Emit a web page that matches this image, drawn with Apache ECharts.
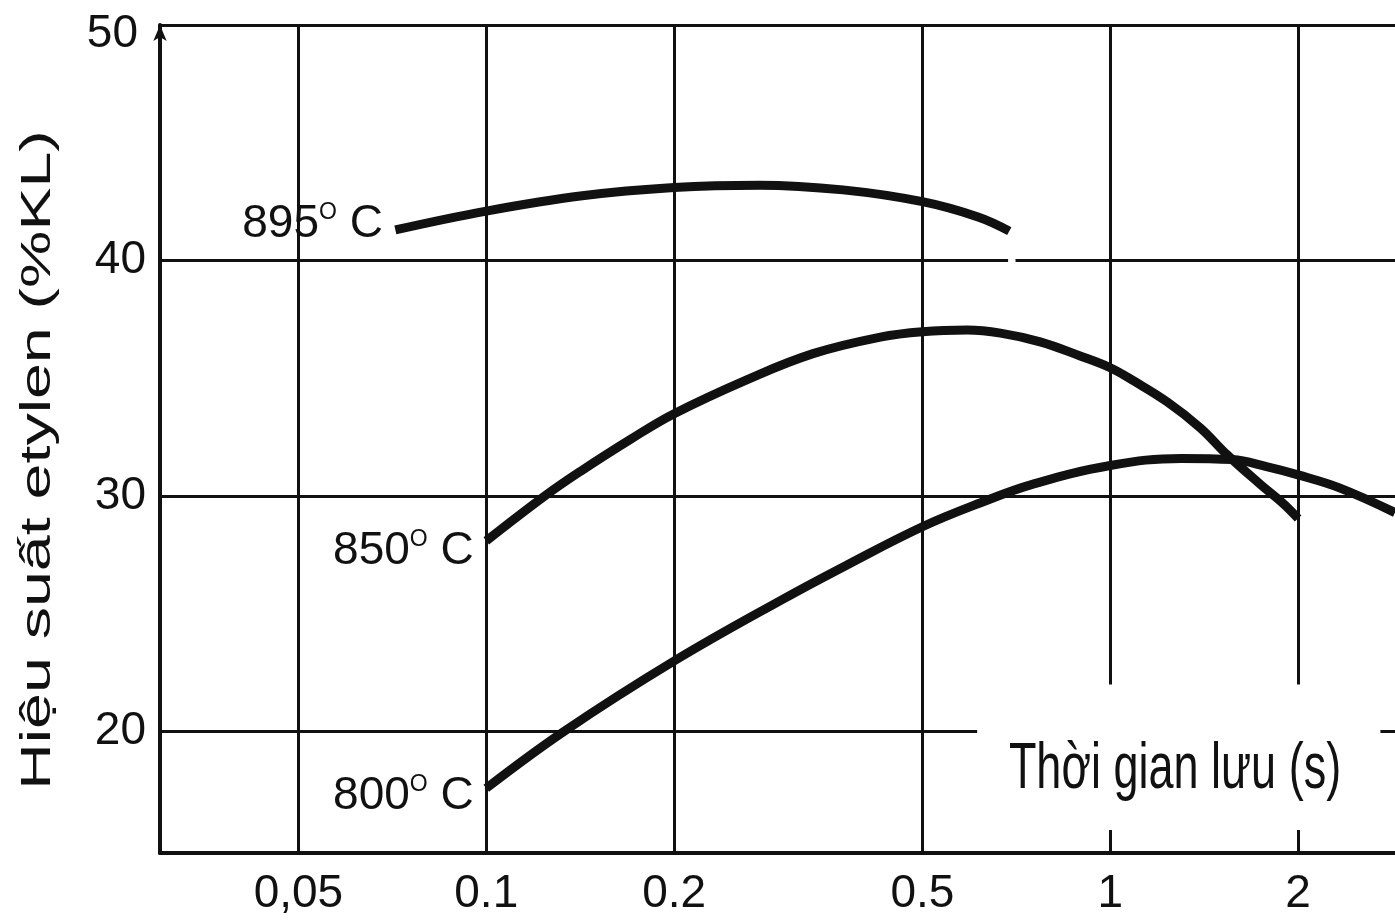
<!DOCTYPE html>
<html>
<head>
<meta charset="utf-8">
<script src="https://cdn.jsdelivr.net/npm/echarts@6/dist/echarts.min.js"></script>
<style>
  html, body { margin: 0; padding: 0; background: #fff; }
  #chart { width: 1395px; height: 924px; }
</style>
</head>
<body>
<div id="chart"></div>
<script>
// ---- data ----
const T_TICKS = [0.05, 0.1, 0.2, 0.5, 1, 2];
const T_TICK_LABELS = ['0,05', '0.1', '0.2', '0.5', '1', '2'];
const Y_TICKS = [20, 30, 40, 50];
const Y_TICK_LABELS = ['20', '30', '40', '50'];
const T_MIN = 0.03, T_MAX = 2.86;
const Y_MIN = 14.85, Y_MAX = 50;

const t895 = [0.0715, 0.1, 0.1425, 0.2, 0.274, 0.373, 0.5, 0.614, 0.689];
const y895 = [41.3, 42.1, 42.75, 43.1, 43.2, 43.0, 42.5, 41.85, 41.25];

const t850 = [0.1, 0.124, 0.1415, 0.17, 0.2, 0.262, 0.334, 0.428, 0.5, 0.59, 0.667, 0.772, 0.895, 1.0, 1.089, 1.234, 1.394, 1.54, 1.74, 1.89, 2.0];
const y850 = [28.1, 30.0, 31.05, 32.4, 33.5, 34.95, 36.05, 36.75, 36.98, 37.05, 36.92, 36.55, 35.95, 35.45, 34.9, 34.0, 32.9, 31.75, 30.5, 29.7, 29.05];

const t800 = [0.1, 0.133, 0.2, 0.3, 0.38, 0.5, 0.62, 0.75, 1.0, 1.3, 1.57, 1.78, 2.0, 2.33, 2.86];
const y800 = [17.6, 20.0, 23.0, 25.65, 27.1, 28.7, 29.72, 30.5, 31.3, 31.6, 31.55, 31.25, 30.9, 30.35, 29.3];

const SERIES_NAMES = ['895', '850', '800'];

// ---- build ----
const L = Math.log10;
const FONT = '"Liberation Sans", Arial, Helvetica, sans-serif';
const INK = '#111';

function lbl(v, ticks, labels) {
  for (let i = 0; i < ticks.length; i++) if (Math.abs(ticks[i] - v) < 1e-6) return labels[i];
  return '';
}

function curve(name, ts, ys, labelOffset) {
  const data = ts.map((t, i) => [L(t), ys[i]]);
  return {
    type: 'line', name: name, data: data, smooth: 0.4, symbol: 'none', showSymbol: false,
    lineStyle: { color: INK, width: 9 }, silent: true, animation: false,
    emphasis: { disabled: true }, z: 5,
    markPoint: {
      silent: true, animation: false, symbol: 'circle', symbolSize: 1,
      itemStyle: { color: 'rgba(0,0,0,0)' },
      label: {
        show: true, position: 'left', distance: 12, offset: labelOffset,
        formatter: '{d|' + name + '}{o|O}{d| C}',
        rich: {
          d: { fontSize: 46, fontFamily: FONT, color: INK },
          o: { fontSize: 23, fontFamily: FONT, color: INK, verticalAlign: 'top' }
        }
      },
      data: [{ coord: data[0] }]
    }
  };
}

// grid line segments in data units [t1, y1, t2, y2]
const GRID_SEGMENTS = [
  [T_TICKS[0], Y_MIN, T_TICKS[0], Y_MAX],
  [T_TICKS[1], Y_MIN, T_TICKS[1], Y_MAX],
  [T_TICKS[2], Y_MIN, T_TICKS[2], Y_MAX],
  [T_TICKS[3], Y_MIN, T_TICKS[3], Y_MAX],
  [T_TICKS[4], 22.0, T_TICKS[4], Y_MAX],
  [T_TICKS[5], 22.0, T_TICKS[5], Y_MAX],
  [T_MIN, 20, 0.612, 20],
  [2.71, 20, T_MAX, 20],
  [T_MIN, 30, T_MAX, 30],
  [T_MIN, 40, 0.686, 40],
  [0.705, 40, T_MAX, 40],
  [T_MIN, 50, T_MAX, 50]
];

const option = {
  backgroundColor: '#fff',
  animation: false,
  grid: { left: 160, right: 0, top: 25, bottom: 71, containLabel: false, outerBoundsMode: 'none' },
  xAxis: {
    type: 'value', min: L(T_MIN), max: L(T_MAX),
    axisLine: { show: true, onZero: false, lineStyle: { color: INK, width: 4 } },
    axisTick: { show: true, inside: true, length: 23, customValues: T_TICKS.map(L), lineStyle: { color: INK, width: 3 } },
    axisLabel: {
      customValues: T_TICKS.map(L), color: INK, fontSize: 46, fontFamily: FONT, margin: 18,
      formatter: v => lbl(v, T_TICKS.map(L), T_TICK_LABELS)
    },
    splitLine: { show: false }
  },
  yAxis: {
    type: 'value', min: Y_MIN, max: Y_MAX,
    axisLine: { show: true, onZero: false, symbol: ['none', 'arrow'], symbolSize: [10, 16], lineStyle: { color: INK, width: 4 } },
    axisTick: { show: false },
    axisLabel: {
      customValues: Y_TICKS, color: INK, fontSize: 46, fontFamily: FONT, margin: 14,
      formatter: v => {
        const s = lbl(v, Y_TICKS, Y_TICK_LABELS);
        return v === Y_MAX ? '{t|' + s + '}' : s;
      },
      rich: {
        t: { fontSize: 46, fontFamily: FONT, color: INK, padding: [18, 8, 0, 0] }
      }
    },
    splitLine: { show: false }
  },
  graphic: [
    {
      type: 'text', x: 38, y: 460, rotation: Math.PI / 2, scaleX: 1.5,
      style: { text: 'Hiệu suất etylen (%KL)', fontSize: 43, fontFamily: FONT, fill: INK, align: 'center', verticalAlign: 'middle' }
    },
    {
      type: 'text', x: 1175, y: 770, scaleY: 1.45,
      style: { text: 'Thời gian lưu (s)', fontSize: 45, fontFamily: FONT, fill: INK, align: 'center', verticalAlign: 'middle' }
    }
  ],
  series: [
    {
      type: 'line', name: 'grid', data: [], silent: true, symbol: 'none', z: 2,
      markLine: {
        silent: true, symbol: ['none', 'none'], animation: false,
        label: { show: false }, emphasis: { disabled: true },
        lineStyle: { color: INK, width: 3, type: 'solid' },
        data: GRID_SEGMENTS.map(s => [{ coord: [L(s[0]), s[1]] }, { coord: [L(s[2]), s[3]] }])
      }
    },
    curve(SERIES_NAMES[0], t895, y895, [0, -6]),
    curve(SERIES_NAMES[1], t850, y850, [0, 10]),
    curve(SERIES_NAMES[2], t800, y800, [0, 8])
  ]
};

const chart = echarts.init(document.getElementById('chart'), null, { renderer: 'canvas' });
chart.setOption(option);
</script>
</body>
</html>
